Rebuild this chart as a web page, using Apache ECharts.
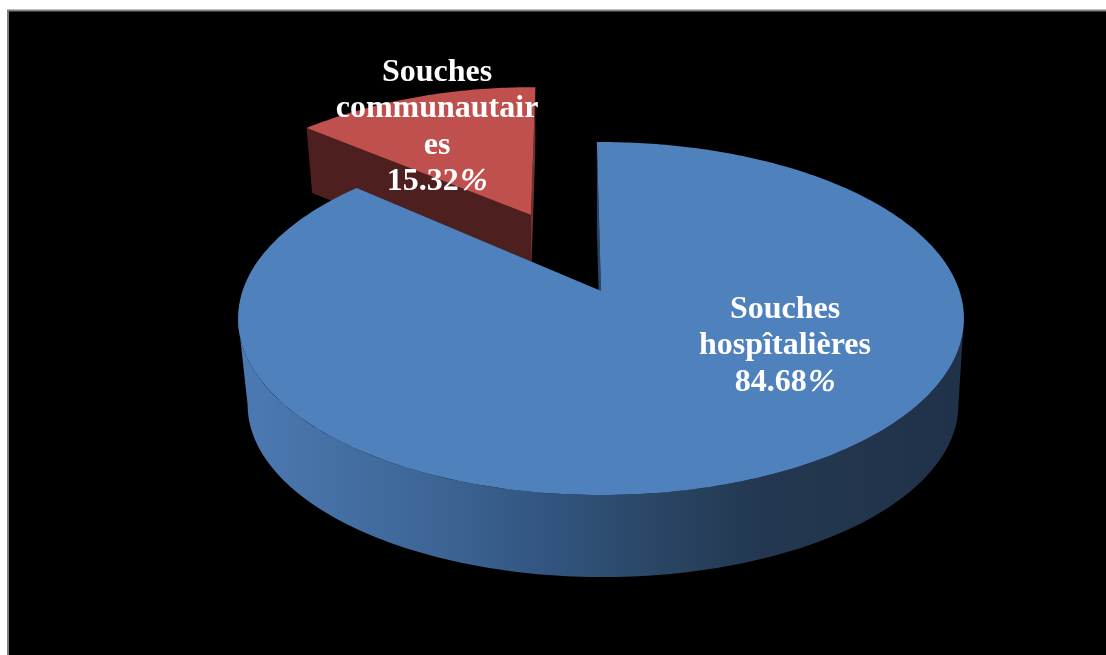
<!DOCTYPE html>
<html>
<head>
<meta charset="utf-8">
<style>html,body{margin:0;padding:0;background:#fff}#chart{width:1106px;height:655px}</style>
<script src="https://cdn.jsdelivr.net/npm/echarts@6/dist/echarts.min.js"></script>
</head>
<body>
<div id="chart"></div>
<script>
// Share of strains by origin, in percent
const categories = ['Souches communautaires', 'Souches hospîtalières'];
const labelLines = [['Souches', 'communautair', 'es'], ['Souches', 'hospîtalières']];
const shares = [15.32, 84.68];

// Perspective disc of each slice: apex position, half axes, foreshortening,
// clockwise start of the slice in degrees from north, angle warp, wall base.
const discs = [
  {
    top: { x: 531, y: 215, a: 360, b: 193, k: 0.51 },
    base: { x: 531, y: 280, a: 351, b: 193, k: 0.51 },
    start: -54.1, warp: 0, cutShift: 0,
    wall: '#4e1f1f', edge: '#6e3230', face: '#c0504d',
    label: { x: 437, y: 127 }
  },
  {
    top: { x: 601, y: 291, a: 358.5, b: 172.2, k: 0.156 },
    base: { x: 603, y: 378, a: 351, b: 168, k: 0.156 },
    start: -0.9, warp: -8.8, cutShift: -2,
    wall: '#2a4468', edge: '#22384f', face: '#4f81bd',
    label: { x: 785, y: 346 }
  }
];

const RAD = Math.PI / 180;

// Clockwise degrees from north -> screen position on a perspective disc
function project(d, deg, radius) {
  const X = Math.sin(deg * RAD) * radius;
  const Y = -Math.cos(deg * RAD) * radius;
  const s = 1 / (1 - d.k * Y);
  return [d.x + d.a * X * s, d.y + d.b * Y * s];
}

function arc(d, from, to, warp) {
  const pts = [];
  const n = Math.max(2, Math.ceil(Math.abs(to - from)));
  for (let i = 0; i <= n; i++) {
    const t = from + (to - from) * i / n;
    pts.push(project(d, t + warp * Math.sin(t * RAD), 1));
  }
  return pts;
}

const sideGradient = new echarts.graphic.LinearGradient(247, 0, 960, 0, [
  { offset: 0, color: '#4b79b2' },
  { offset: 0.12, color: '#4570a4' },
  { offset: 0.26, color: '#3d6696' },
  { offset: 0.42, color: '#325580' },
  { offset: 0.55, color: '#2b4869' },
  { offset: 0.72, color: '#233850' },
  { offset: 1, color: '#20324a' }
], true);

function renderSlice(params, api) {
  const i = params.dataIndex;
  const value = api.value(0);
  const d = discs[i];
  const sweep = value / 100 * 360;
  const from = d.start;
  const to = d.start + sweep;
  const warp = d.warp;
  const rim = arc(d.top, from, to, warp);
  const children = [];
  const apexTop = project(d.top, 0, 0);
  const apexBase = project(d.base, 0, 0);

  // Cut faces sit under the top surface; only their visible strips show
  const startTop = rim[0];
  const startBase = project(d.base, from + warp * Math.sin(from * RAD), 1);
  const endTop = rim[rim.length - 1];
  const endBase = project(d.base, to + warp * Math.sin(to * RAD), 1);
  children.push({
    type: 'polygon',
    shape: { points: [apexTop, endTop, endBase, apexBase] },
    style: { fill: d.edge }
  });
  children.push({
    type: 'polygon',
    shape: {
      points: [
        apexTop,
        startTop,
        [startBase[0] + d.cutShift, startBase[1]],
        [apexBase[0] + d.cutShift, apexBase[1]]
      ]
    },
    style: { fill: d.wall }
  });

  // Outer wall: the part of the rim that faces the viewer
  const wallFrom = Math.max(from, 99);
  const wallTo = Math.min(to, 261);
  if (wallTo > wallFrom) {
    const upper = arc(d.top, wallFrom, wallTo, 0);
    const lower = arc(d.base, wallFrom, wallTo, 0).reverse();
    children.push({
      type: 'polygon',
      shape: { points: upper.concat(lower) },
      style: { fill: sideGradient }
    });
  }

  children.push({
    type: 'polygon',
    shape: { points: [apexTop].concat(rim) },
    style: { fill: d.face }
  });

  const lines = labelLines[i].map(t => '{b|' + t + '}');
  lines.push('{b|' + value.toFixed(2) + '}{p|%}');
  children.push({
    type: 'text',
    z2: 10,
    style: {
      text: lines.join('\n'),
      x: d.label.x,
      y: d.label.y,
      align: 'center',
      verticalAlign: 'middle',
      fill: '#fff',
      rich: {
        b: { font: 'bold 32px "Liberation Serif"', lineHeight: 36.5, fill: '#fff' },
        p: {
          font: 'italic 32px "Liberation Serif"', lineHeight: 36.5, fill: '#fff',
          stroke: '#fff', lineWidth: 0.6, padding: [0, 0, 0, 2]
        }
      }
    }
  });
  return { type: 'group', children };
}

const chart = echarts.init(document.getElementById('chart'), null, { renderer: 'canvas' });
chart.setOption({
  animation: false,
  backgroundColor: '#ffffff',
  graphic: [{
    type: 'rect',
    z: -1,
    shape: { x: 8, y: 10.5, width: 1110, height: 660 },
    style: { fill: '#000000', stroke: '#7f7f7f', lineWidth: 2 }
  }],
  series: [{
    type: 'custom',
    coordinateSystem: 'none',
    renderItem: renderSlice,
    data: shares.map((v, i) => ({ name: categories[i], value: [v] }))
  }]
});
</script>
</body>
</html>
